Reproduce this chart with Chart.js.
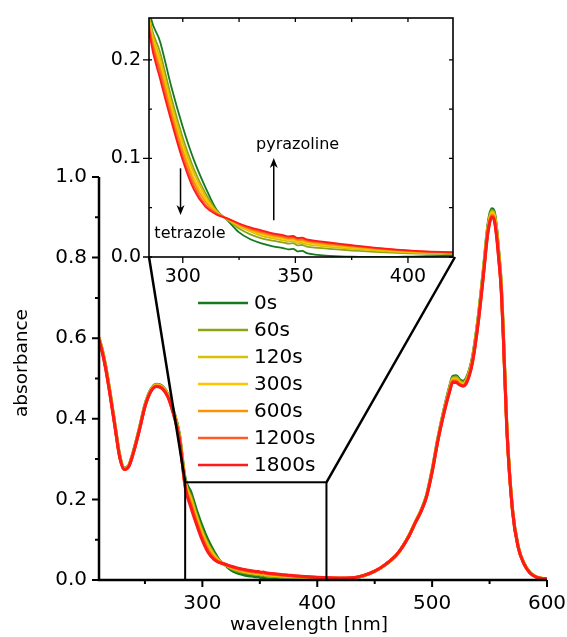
<!DOCTYPE html>
<html><head><meta charset="utf-8">
<script src="https://cdn.jsdelivr.net/npm/chart.js@4.4.1/dist/chart.umd.min.js"></script>
<style>
html,body{margin:0;padding:0;background:#fff;}
#wrap{position:relative;width:567px;height:637px;overflow:hidden;}
#main{position:absolute;left:0;top:0;}
#inset{position:absolute;left:100px;top:0;}
</style></head><body>
<div id="wrap">
<canvas id="main" width="567" height="637"></canvas>
<canvas id="inset" width="365" height="285"></canvas>
</div>
<script>
// ---------- data ----------
const wavelengths = [
 210,213,216,220,224,228,232,236,240,245,250,255,260,265,270,275,280,
 285,290,295,300,305,310,315,320,325,330,335,340,345,347,349,351,353,355,
 360,365,370,375,380,385,390,395,400,405,410,415,420,
 430,440,450,460,470,480,485,490,495,500,505,510,515,518,521,524,527,530,535,540,
 545,548,550,552,554,556,558,560,562,565,570,575,580,585,590,595,600];

const s0s = [
 0.602,0.570,0.528,0.459,0.384,0.310,0.278,0.285,0.320,0.375,0.435,0.472,0.486,0.481,0.461,0.419,0.362,
 0.252,0.218,0.172,0.132,0.098,0.071,0.048,0.037,0.025,0.018,0.0138,0.0108,0.0088,0.0078,0.0083,0.0058,0.0062,0.0040,
 0.0022,0.0012,0.0006,0.0003,0.0002,0.0001,0.0001,0.0002,0.0004,0.0006,0.0009,0.0012,0.0015,
 0.004,0.010,0.021,0.039,0.065,0.111,0.142,0.171,0.209,0.274,0.352,0.419,0.477,0.505,0.507,0.497,0.493,0.502,0.551,0.650,
 0.782,0.868,0.905,0.921,0.914,0.876,0.815,0.744,0.616,0.386,0.176,0.083,0.041,0.019,0.0085,0.0042,0.003];

const s60s = [
 0.601,0.569,0.527,0.458,0.383,0.309,0.277,0.285,0.319,0.374,0.434,0.471,0.485,0.480,0.460,0.417,0.359,
 0.246,0.207,0.161,0.121,0.089,0.065,0.047,0.0375,0.029,0.023,0.019,0.0165,0.0145,0.0136,0.0140,0.0118,0.0122,0.0106,
 0.0093,0.0083,0.0074,0.0066,0.0059,0.0052,0.0046,0.0041,0.0037,0.0034,0.0032,0.0031,0.0030,
 0.0045,0.0105,0.0215,0.0395,0.0655,0.111,0.141,0.170,0.208,0.272,0.350,0.417,0.474,0.502,0.504,0.494,0.490,0.499,0.548,0.646,
 0.778,0.864,0.900,0.917,0.910,0.872,0.812,0.741,0.613,0.384,0.175,0.082,0.041,0.019,0.0084,0.0042,0.003];

const s120s = [
 0.600,0.568,0.526,0.457,0.382,0.308,0.276,0.284,0.318,0.373,0.433,0.470,0.484,0.479,0.459,0.416,0.357,
 0.243,0.201,0.155,0.116,0.085,0.062,0.046,0.038,0.031,0.026,0.0215,0.0188,0.0168,0.0158,0.0162,0.0140,0.0144,0.0128,
 0.0115,0.0103,0.0093,0.0084,0.0075,0.0067,0.0059,0.0053,0.0047,0.0043,0.0040,0.0038,0.0036,
 0.005,0.0105,0.0215,0.0395,0.0655,0.111,0.141,0.170,0.207,0.271,0.349,0.415,0.472,0.499,0.500,0.491,0.487,0.496,0.545,0.643,
 0.775,0.861,0.896,0.913,0.906,0.868,0.808,0.737,0.610,0.382,0.174,0.082,0.0405,0.0185,0.0083,0.0041,0.003];

const s300s = [
 0.599,0.567,0.525,0.456,0.381,0.307,0.276,0.284,0.318,0.372,0.432,0.469,0.483,0.478,0.458,0.415,0.355,
 0.240,0.196,0.150,0.111,0.080,0.059,0.045,0.0383,0.032,0.027,0.0232,0.0205,0.0185,0.0175,0.0178,0.0157,0.0160,0.0145,
 0.0131,0.0118,0.0107,0.0097,0.0087,0.0078,0.0069,0.0061,0.0055,0.0050,0.0046,0.0043,0.0041,
 0.005,0.0108,0.022,0.040,0.066,0.111,0.141,0.169,0.207,0.270,0.348,0.414,0.470,0.497,0.497,0.488,0.485,0.494,0.543,0.641,
 0.772,0.858,0.893,0.910,0.903,0.865,0.805,0.734,0.607,0.380,0.173,0.081,0.0403,0.0183,0.0082,0.0041,0.003];

const s600s = [
 0.598,0.566,0.524,0.455,0.380,0.306,0.275,0.283,0.317,0.371,0.431,0.468,0.482,0.477,0.456,0.413,0.353,
 0.237,0.191,0.146,0.107,0.076,0.056,0.0445,0.0386,0.0328,0.028,0.0245,0.0218,0.0197,0.0187,0.0190,0.0170,0.0172,0.0158,
 0.0143,0.0129,0.0117,0.0106,0.0095,0.0085,0.0076,0.0067,0.0060,0.0054,0.0050,0.0047,0.0044,
 0.0052,0.0108,0.022,0.040,0.066,0.1105,0.1405,0.169,0.206,0.269,0.347,0.413,0.468,0.495,0.495,0.486,0.483,0.492,0.541,0.639,
 0.769,0.855,0.890,0.906,0.899,0.861,0.801,0.730,0.604,0.378,0.172,0.081,0.0402,0.0182,0.0081,0.0040,0.003];

const s1200s = [
 0.597,0.564,0.522,0.453,0.379,0.305,0.274,0.282,0.316,0.370,0.430,0.467,0.481,0.476,0.455,0.411,0.351,
 0.234,0.186,0.141,0.102,0.072,0.053,0.0438,0.0388,0.0334,0.029,0.0258,0.023,0.0208,0.0198,0.0201,0.0182,0.0184,0.0169,
 0.0153,0.0139,0.0126,0.0114,0.0102,0.0091,0.0081,0.0072,0.0064,0.0058,0.0053,0.0049,0.0046,
 0.0053,0.011,0.022,0.040,0.066,0.110,0.140,0.1685,0.2055,0.2685,0.346,0.4115,0.4665,0.493,0.4925,0.485,0.482,0.491,0.5395,0.637,
 0.767,0.8525,0.8875,0.903,0.896,0.858,0.798,0.7275,0.602,0.3765,0.171,0.0805,0.0401,0.0181,0.008,0.004,0.003];

const s1800s = [
 0.596,0.563,0.521,0.452,0.378,0.305,0.274,0.282,0.316,0.370,0.430,0.467,0.480,0.475,0.454,0.410,0.350,
 0.230,0.180,0.137,0.098,0.068,0.051,0.043,0.039,0.034,0.030,0.027,0.024,0.022,0.021,0.0213,0.0193,0.0196,0.0178,
 0.0162,0.0147,0.0133,0.0120,0.0107,0.0095,0.0084,0.0075,0.0067,0.0060,0.0055,0.0051,0.0048,
 0.0055,0.011,0.022,0.040,0.066,0.110,0.140,0.168,0.205,0.268,0.345,0.410,0.465,0.491,0.490,0.484,0.481,0.489,0.538,0.635,
 0.765,0.850,0.885,0.900,0.893,0.855,0.795,0.725,0.600,0.375,0.170,0.080,0.040,0.018,0.008,0.004,0.003];

const seriesLabels = ['0s','60s','120s','300s','600s','1200s','1800s'];
const seriesColors = ['#16781f','#8ea318','#d6c200','#ffc600','#ff9200','#ff5a26','#ff1a1a'];
const seriesValues = [s0s, s60s, s120s, s300s, s600s, s1200s, s1800s];

const mainXTicks = [300,400,500,600];
const mainXMinor = [250,350,450,550];
const mainYTicks = [0,0.2,0.4,0.6,0.8,1.0];
const mainYMinor = [0.1,0.3,0.5,0.7,0.9];
const insetXTicks = [300,350,400];
const insetXMinor = [325,375];
const insetYTicks = [0,0.1,0.2];
const insetYMinor = [0.05,0.15];
const zoomRange = [285, 408, 0, 0.2425];   // magnified region (x0, x1, y0, y1)

const FONT = '"DejaVu Sans", "Liberation Sans", sans-serif';
const INSET_LEFT = 100, INSET_TOP = 0;

function makeDatasets(lw){
  return seriesValues.map((vals,i)=>({
    label: seriesLabels[i],
    data: wavelengths.map((w,j)=>({x:w, y:vals[j]})),
    borderColor: seriesColors[i],
    backgroundColor: seriesColors[i],
    borderWidth: lw,
    pointRadius: 0,
    fill: false,
    cubicInterpolationMode: 'monotone',
    order: seriesValues.length - i
  }));
}

function noPad(s){ s.paddingLeft = 0; s.paddingRight = 0; s.paddingTop = 0; s.paddingBottom = 0; }

function arrow(ctx, x, y0, y1){
  const dir = Math.sign(y1 - y0);
  ctx.beginPath(); ctx.moveTo(x, y0); ctx.lineTo(x, y1 - dir*5); ctx.stroke();
  ctx.beginPath(); ctx.moveTo(x, y1); ctx.lineTo(x-4, y1 - dir*10); ctx.lineTo(x, y1 - dir*7); ctx.lineTo(x+4, y1 - dir*10); ctx.closePath(); ctx.fill();
}

// ---------- inset chart ----------
const insetDecor = {
  id: 'insetDecor',
  beforeDraw(chart){
    const {ctx, chartArea:a} = chart;
    ctx.save(); ctx.fillStyle = '#fff'; ctx.fillRect(a.left, a.top, a.right-a.left, a.bottom-a.top); ctx.restore();
  },
  afterDraw(chart){
    const {ctx, chartArea:a, scales:{x,y}} = chart;
    ctx.save();
    ctx.strokeStyle = '#000'; ctx.fillStyle = '#000';
    ctx.lineWidth = 1.6;
    ctx.strokeRect(a.left, a.top, a.right-a.left, a.bottom-a.top);
    ctx.lineWidth = 1.3;
    ctx.beginPath();
    insetYTicks.forEach(v=>{ const p=y.getPixelForValue(v); ctx.moveTo(a.left-6,p); ctx.lineTo(a.left+3,p); ctx.moveTo(a.right,p); ctx.lineTo(a.right-4,p); });
    insetYMinor.forEach(v=>{ const p=y.getPixelForValue(v); ctx.moveTo(a.left,p); ctx.lineTo(a.left+3,p); ctx.moveTo(a.right,p); ctx.lineTo(a.right-4,p); });
    insetXTicks.forEach(v=>{ const p=x.getPixelForValue(v); ctx.moveTo(p,a.bottom); ctx.lineTo(p,a.bottom+6); ctx.moveTo(p,a.top); ctx.lineTo(p,a.top+4); });
    insetXMinor.forEach(v=>{ const p=x.getPixelForValue(v); ctx.moveTo(p,a.bottom); ctx.lineTo(p,a.bottom+3); ctx.moveTo(p,a.top); ctx.lineTo(p,a.top+4); });
    ctx.stroke();
    // annotations
    ctx.lineWidth = 1.5;
    arrow(ctx, x.getPixelForValue(299), y.getPixelForValue(0.090), y.getPixelForValue(0.0425));
    arrow(ctx, x.getPixelForValue(340.4), y.getPixelForValue(0.0373), y.getPixelForValue(0.1004));
    ctx.font = '16px ' + FONT;
    ctx.textAlign = 'center'; ctx.textBaseline = 'middle';
    ctx.fillText('tetrazole', x.getPixelForValue(303.2), y.getPixelForValue(0.024));
    ctx.fillText('pyrazoline', x.getPixelForValue(351), y.getPixelForValue(0.1136));
    ctx.restore();
  }
};

const insetChart = new Chart(document.getElementById('inset'), {
  type: 'line',
  data: { datasets: makeDatasets(1.8) },
  options: {
    responsive: false, animation: false, devicePixelRatio: 1,
    layout: { padding: { left: 0, right: 12, top: 18, bottom: 0 } },
    plugins: { legend: { display: false }, tooltip: { enabled: false } },
    scales: {
      x: { type: 'linear', min: 285, max: 420,
        afterFit: s => { s.height = 28; noPad(s); },
        afterBuildTicks: s => { s.ticks = insetXTicks.map(v=>({value:v})); },
        grid: { display: false, drawTicks: false }, border: { display: false },
        ticks: { font: { family: FONT, size: 19 }, color: '#000', padding: 9, maxRotation: 0, autoSkip: false, callback: v => String(v) } },
      y: { type: 'linear', min: 0, max: 0.2425,
        afterFit: s => { s.width = 49; noPad(s); },
        afterBuildTicks: s => { s.ticks = insetYTicks.map(v=>({value:v})); },
        grid: { display: false, drawTicks: false }, border: { display: false },
        ticks: { font: { family: FONT, size: 19 }, color: '#000', padding: 8, autoSkip: false, callback: v => Number(v).toFixed(1) } }
    }
  },
  plugins: [insetDecor]
});

// ---------- main chart ----------
const mainDecor = {
  id: 'mainDecor',
  afterDraw(chart){
    const {ctx, chartArea:a, scales:{x,y}} = chart;
    ctx.save();
    ctx.strokeStyle = '#000'; ctx.fillStyle = '#000';
    // spines
    ctx.lineWidth = 2.5;
    ctx.beginPath();
    ctx.moveTo(a.left, y.getPixelForValue(1)); ctx.lineTo(a.left, a.bottom); ctx.lineTo(a.right, a.bottom);
    ctx.stroke();
    // ticks
    ctx.lineWidth = 2;
    ctx.beginPath();
    mainYTicks.forEach(v=>{ const p=y.getPixelForValue(v); ctx.moveTo(a.left-7,p); ctx.lineTo(a.left,p); });
    mainYMinor.forEach(v=>{ const p=y.getPixelForValue(v); ctx.moveTo(a.left-4,p); ctx.lineTo(a.left,p); });
    mainXTicks.forEach(v=>{ const p=x.getPixelForValue(v); ctx.moveTo(p,a.bottom); ctx.lineTo(p,a.bottom+7); });
    mainXMinor.forEach(v=>{ const p=x.getPixelForValue(v); ctx.moveTo(p,a.bottom); ctx.lineTo(p,a.bottom+4); });
    ctx.stroke();
    // zoom rectangle and connectors
    const rx0 = x.getPixelForValue(zoomRange[0]), rx1 = x.getPixelForValue(zoomRange[1]);
    const ry0 = y.getPixelForValue(zoomRange[2]), ry1 = y.getPixelForValue(zoomRange[3]);
    ctx.lineWidth = 2;
    ctx.strokeRect(rx0, ry1, rx1-rx0, ry0-ry1);
    const ia = insetChart.chartArea;
    ctx.lineWidth = 2.5;
    ctx.beginPath();
    ctx.moveTo(rx0, ry1); ctx.lineTo(INSET_LEFT + ia.left, INSET_TOP + ia.bottom);
    ctx.moveTo(rx1, ry1); ctx.lineTo(INSET_LEFT + ia.right + 2, INSET_TOP + ia.bottom);
    ctx.stroke();
    // legend
    ctx.font = '20px ' + FONT;
    ctx.textAlign = 'left'; ctx.textBaseline = 'middle';
    chart.data.datasets.forEach((ds,i)=>{
      const yy = 303 + i*27;
      ctx.strokeStyle = ds.borderColor; ctx.lineWidth = 2.5;
      ctx.beginPath(); ctx.moveTo(198, yy); ctx.lineTo(248, yy); ctx.stroke();
      ctx.fillStyle = '#000';
      ctx.fillText(ds.label, 254, yy + 1);
    });
    // axis titles
    ctx.font = '18.5px ' + FONT;
    ctx.textAlign = 'center'; ctx.textBaseline = 'middle';
    ctx.fillText('wavelength [nm]', 309, 625);
    ctx.save();
    ctx.translate(22, 363); ctx.rotate(-Math.PI/2);
    ctx.fillText('absorbance', 0, 0);
    ctx.restore();
    ctx.restore();
  }
};

new Chart(document.getElementById('main'), {
  type: 'line',
  data: { datasets: makeDatasets(3) },
  options: {
    responsive: false, animation: false, devicePixelRatio: 1,
    layout: { padding: { left: 0, right: 20, top: 177, bottom: 0 } },
    plugins: { legend: { display: false }, tooltip: { enabled: false } },
    scales: {
      x: { type: 'linear', min: 210, max: 600,
        afterFit: s => { s.height = 57; noPad(s); },
        afterBuildTicks: s => { s.ticks = mainXTicks.map(v=>({value:v})); },
        grid: { display: false, drawTicks: false }, border: { display: false },
        ticks: { font: { family: FONT, size: 20 }, color: '#000', padding: 12, maxRotation: 0, autoSkip: false, callback: v => String(v) } },
      y: { type: 'linear', min: 0, max: 1,
        afterFit: s => { s.width = 99; noPad(s); },
        afterBuildTicks: s => { s.ticks = mainYTicks.map(v=>({value:v})); },
        grid: { display: false, drawTicks: false }, border: { display: false },
        ticks: { font: { family: FONT, size: 20 }, color: '#000', padding: 12, autoSkip: false, callback: v => Number(v).toFixed(1) } }
    }
  },
  plugins: [mainDecor]
});
</script>
</body></html>
